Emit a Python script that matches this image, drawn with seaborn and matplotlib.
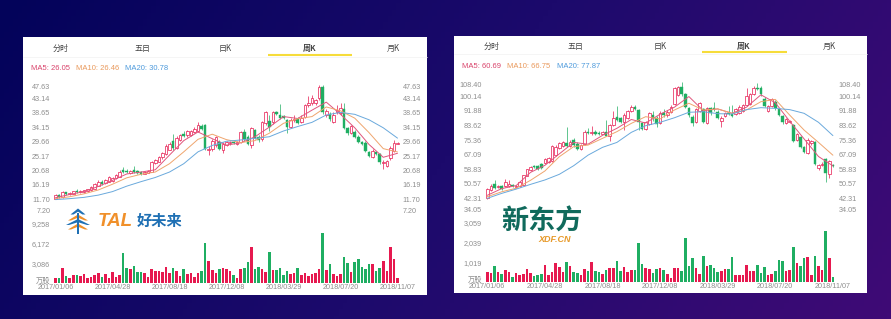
import numpy as np
import pandas as pd
import seaborn as sns
import matplotlib.pyplot as plt
from matplotlib.colors import LinearSegmentedColormap
from matplotlib.patches import Polygon, Rectangle
from matplotlib.transforms import ScaledTranslation

W, H = 891, 319
RED = '#e6194f'
GREEN = '#1fae62'
MA_COLORS = ['#e0567c', '#efa56e', '#6aa9dc']
GREY = '#8e8e8e'

tabs = ['分时', '五日', '日K', '周K', '月K']
dates = ['2017/01/06', '2017/04/28', '2017/08/18', '2017/12/08', '2018/03/29', '2018/07/20', '2018/11/07']
date_idx = [0, 16, 32, 48, 64, 80, 96]
ma_idx = list(range(0, 97, 4))

# TAL
tal_labels = ['MA5: 26.05', 'MA10: 26.46', 'MA20: 30.78']
tal_ticks = [47.63, 43.14, 38.65, 34.15, 29.66, 25.17, 20.68, 16.19, 11.70, 7.20]
tal_vol_ticks = [3086, 6172, 9258]
tal_open = [11.9, 12.9, 12.3, 13.9, 13.2, 13.5, 14.4, 13.9, 14.0, 14.2, 14.5, 15.0, 16.0, 17.2, 16.7, 17.2, 17.5, 18.2, 18.8, 20.9,
            20.6, 20.0, 20.7, 20.6, 20.3, 19.7, 20.0, 20.3, 23.0, 23.4, 24.8, 25.8, 27.2, 29.9, 27.8, 30.2, 32.0, 31.6, 31.9, 32.7,
            33.0, 34.6, 34.9, 27.0, 27.3, 28.5, 29.7, 27.0, 28.6, 29.2, 29.7, 29.1, 29.7, 32.8, 31.2, 28.6, 33.3, 31.2, 30.4, 35.4,
            36.2, 35.7, 38.8, 37.9, 37.6, 36.3, 34.4, 36.3, 36.8, 35.8, 37.5, 41.1, 41.6, 41.6, 43.2, 46.6, 38.0, 38.4, 35.9, 39.0,
            38.5, 40.0, 33.8, 32.3, 32.8, 31.2, 29.5, 29.4, 26.5, 25.0, 26.5, 25.7, 23.0, 22.2, 24.5, 26.7, 29.1]
tal_close = [13.0, 12.3, 13.9, 13.2, 13.8, 14.2, 13.9, 14.3, 14.5, 14.8, 15.6, 16.6, 17.2, 16.6, 17.7, 18.6, 18.2, 19.3, 20.3, 20.3,
             20.2, 20.6, 20.1, 20.0, 19.7, 20.2, 20.4, 23.2, 24.0, 24.9, 26.2, 28.4, 29.1, 27.6, 30.9, 31.6, 31.4, 33.0, 32.9, 33.7,
             34.8, 33.6, 27.4, 27.4, 29.9, 31.0, 27.5, 29.1, 29.5, 29.7, 29.2, 29.6, 32.6, 30.5, 29.1, 33.8, 30.9, 30.1, 35.7, 38.8,
             34.4, 38.8, 38.3, 37.2, 37.1, 34.4, 36.3, 36.8, 35.6, 37.0, 41.1, 41.6, 43.2, 42.6, 46.8, 38.8, 39.2, 36.7, 38.0, 39.4,
             40.3, 34.0, 32.3, 34.6, 31.2, 29.7, 28.9, 26.9, 25.3, 26.9, 25.9, 23.2, 23.3, 23.7, 27.8, 29.4, 29.3]
tal_high = [13.2, 13.2, 14.2, 14.1, 14.0, 14.4, 14.9, 14.5, 14.7, 15.0, 15.9, 16.9, 17.6, 17.6, 18.0, 19.0, 18.6, 19.7, 20.9, 21.8,
            21.0, 20.9, 22.0, 20.9, 20.6, 20.5, 20.7, 23.6, 24.4, 25.2, 26.6, 28.9, 29.5, 32.0, 31.3, 32.0, 32.9, 33.4, 33.3, 34.2,
            35.8, 35.3, 35.2, 28.2, 30.4, 31.4, 30.2, 29.6, 29.9, 30.0, 30.0, 30.0, 33.0, 33.6, 31.6, 34.1, 33.7, 31.6, 36.0, 39.1,
            38.0, 39.1, 39.3, 41.3, 38.0, 36.8, 36.9, 38.0, 37.4, 38.0, 41.5, 44.0, 44.3, 43.1, 47.2, 47.4, 39.8, 38.8, 38.8, 41.0,
            41.8, 41.8, 34.2, 35.0, 33.2, 31.6, 29.9, 29.8, 26.9, 27.3, 26.8, 26.1, 23.8, 24.1, 28.2, 30.3, 29.6]
tal_low = [11.7, 12.0, 12.1, 13.0, 13.0, 13.3, 13.6, 13.7, 13.8, 14.0, 14.3, 14.8, 15.8, 16.3, 16.5, 17.0, 17.2, 18.0, 18.6, 20.0,
           19.9, 19.7, 19.9, 19.7, 19.4, 19.5, 19.8, 20.1, 22.6, 23.2, 24.4, 25.5, 27.0, 27.2, 27.4, 29.8, 31.0, 31.2, 31.5, 32.3,
           32.6, 33.2, 27.0, 25.4, 26.9, 28.0, 27.0, 26.0, 28.2, 28.6, 28.9, 28.7, 29.3, 30.0, 28.6, 27.6, 30.4, 29.7, 30.0, 34.8,
           33.0, 35.3, 37.9, 36.8, 36.7, 32.3, 34.0, 35.9, 35.2, 35.4, 37.0, 40.6, 41.2, 41.1, 42.8, 38.3, 37.5, 36.2, 35.5, 38.4,
           38.0, 33.5, 31.8, 32.0, 30.8, 29.2, 28.5, 26.4, 24.9, 24.6, 25.5, 22.8, 21.0, 21.8, 23.8, 26.3, 28.8]
tal_vol = [770, 770, 2310, 1130, 770, 1290, 1290, 1130, 1440, 770, 1030, 1340, 1640, 1030, 1440, 770, 1800, 1030, 1290, 4730,
           2310, 2210, 2670, 1800, 1700, 1640, 930, 2260, 1950, 1850, 1700, 2570, 1540, 2310, 1850, 1130, 2160, 1440, 1640, 1030,
           1540, 1950, 6170, 3500, 2060, 1540, 2260, 2360, 2160, 1850, 1290, 870, 2160, 2360, 3340, 5650, 2160, 2570, 2160, 1750,
           4880, 2060, 2060, 2310, 1340, 1850, 1490, 1540, 2360, 1290, 1640, 1180, 1490, 1540, 2160, 7810, 2060, 2930, 1490, 1080,
           1490, 4010, 3080, 1750, 3340, 3700, 2570, 2260, 2980, 2980, 1950, 2360, 3500, 1850, 5650, 3700, 820]
tal_ma5 = [12.2, 13.2, 14.1, 15.7, 17.6, 19.6, 20.2, 20.9, 25.5, 30.0, 32.7, 30.6, 28.6, 29.3, 31.2, 34.2, 37.5, 36.9, 39.5, 42.0, 38.2, 34.0, 28.8, 24.8, 26.05]
tal_ma10 = [11.9, 12.5, 13.4, 14.6, 16.4, 18.4, 19.5, 20.2, 22.8, 26.5, 30.4, 32.0, 30.3, 29.4, 30.0, 32.3, 35.4, 36.8, 37.5, 40.5, 39.3, 37.0, 32.5, 27.5, 26.46]
tal_ma20 = [11.6, 11.9, 12.3, 13.0, 14.1, 15.8, 17.2, 18.5, 20.2, 22.8, 26.5, 28.5, 29.8, 30.2, 30.7, 31.2, 33.0, 34.4, 35.7, 38.0, 38.8, 38.2, 36.5, 34.0, 30.78]

# XDF
xdf_labels = ['MA5: 60.69', 'MA10: 66.75', 'MA20: 77.87']
xdf_ticks = [108.40, 100.14, 91.88, 83.62, 75.36, 67.09, 58.83, 50.57, 42.31, 34.05]
xdf_vol_ticks = [1019, 2039, 3059]
xdf_open = [42.3, 47.0, 50.2, 48.7, 49.0, 49.0, 49.2, 49.8, 48.6, 49.2, 50.0, 55.1, 58.3, 60.8, 60.6, 61.6, 62.1, 63.1, 63.4, 66.8,
            70.6, 72.0, 73.5, 72.0, 75.4, 73.0, 70.2, 73.0, 80.1, 79.1, 80.1, 79.6, 79.0, 80.1, 77.8, 83.9, 88.6, 88.0, 85.8, 87.7,
            91.8, 94.3, 92.4, 84.8, 81.4, 84.2, 89.5, 87.7, 85.0, 90.5, 89.6, 91.4, 95.8, 100.9, 105.6, 101.3, 93.3, 88.6, 85.8, 92.0,
            92.9, 85.0, 93.3, 93.3, 91.4, 86.1, 89.0, 90.9, 90.2, 90.3, 90.5, 92.0, 95.2, 95.8, 101.3, 104.8, 105.0, 98.9, 91.8, 94.8,
            97.2, 93.0, 89.0, 84.8, 85.6, 83.9, 75.4, 77.2, 71.6, 67.8, 73.5, 74.2, 59.3, 61.0, 64.6, 56.0, 61.2]
xdf_close = [47.5, 49.4, 48.0, 49.0, 47.6, 51.5, 50.4, 49.1, 49.4, 51.6, 55.3, 58.7, 60.2, 60.2, 58.9, 59.4, 64.6, 65.4, 71.9, 71.6,
             73.5, 74.0, 72.0, 74.0, 72.5, 70.2, 72.4, 80.1, 79.1, 80.1, 79.0, 78.6, 79.8, 77.8, 83.9, 87.7, 86.7, 85.3, 89.5, 91.8,
             94.3, 93.0, 85.4, 81.4, 85.4, 90.5, 87.6, 84.6, 90.5, 89.5, 91.4, 94.3, 104.7, 105.3, 101.3, 94.3, 89.5, 84.8, 92.9, 96.2,
             85.8, 93.3, 90.5, 92.9, 87.7, 88.0, 90.9, 90.2, 88.8, 93.0, 94.0, 95.0, 100.6, 101.3, 105.0, 104.2, 101.3, 94.8, 94.6, 98.7,
             93.4, 89.5, 85.4, 87.3, 86.2, 74.8, 78.8, 71.6, 68.7, 75.4, 74.6, 61.8, 61.2, 61.6, 56.4, 63.2, 60.7]
xdf_high = [48.0, 50.2, 52.8, 49.8, 49.8, 53.0, 52.6, 50.4, 49.8, 52.0, 55.8, 59.0, 60.6, 61.2, 61.4, 62.2, 65.2, 66.0, 72.4, 72.6,
            74.0, 75.0, 83.0, 75.4, 76.6, 74.0, 73.0, 80.8, 82.0, 83.4, 81.0, 80.4, 80.4, 86.8, 84.4, 91.8, 94.6, 88.6, 90.6, 92.4,
            95.0, 95.2, 93.2, 85.6, 86.0, 91.4, 92.0, 88.8, 91.6, 93.0, 92.2, 95.0, 105.4, 106.0, 108.4, 102.0, 94.2, 89.4, 93.6, 97.0,
            93.6, 94.2, 94.0, 97.0, 92.4, 88.8, 91.4, 94.8, 95.4, 93.6, 95.2, 95.8, 105.0, 102.0, 105.8, 107.8, 106.2, 99.8, 95.2, 99.4,
            98.0, 93.8, 89.6, 88.0, 86.8, 84.6, 79.4, 77.8, 72.2, 76.4, 75.4, 74.8, 61.8, 63.0, 65.0, 64.0, 61.8]
xdf_low = [41.9, 46.6, 47.6, 48.0, 47.2, 48.6, 48.6, 48.8, 48.2, 48.8, 49.6, 54.8, 57.8, 59.6, 58.4, 59.0, 61.6, 62.6, 63.0, 66.2,
           70.0, 71.4, 71.4, 71.2, 71.6, 69.6, 69.6, 72.4, 78.6, 78.4, 78.4, 78.2, 78.6, 77.4, 75.0, 83.4, 86.2, 84.8, 81.0, 87.2,
           91.2, 92.4, 81.2, 81.0, 81.0, 83.6, 86.4, 82.6, 84.4, 88.6, 88.6, 90.8, 95.0, 100.2, 100.6, 93.6, 88.6, 83.4, 85.0, 91.4,
           84.8, 84.4, 89.6, 92.0, 87.0, 83.0, 88.4, 89.6, 88.2, 89.6, 90.0, 91.4, 94.6, 95.2, 100.8, 103.6, 100.6, 94.0, 91.0, 94.2,
           92.6, 88.8, 84.6, 84.2, 85.0, 74.0, 74.8, 71.0, 68.0, 67.2, 72.8, 61.2, 58.6, 60.4, 51.4, 54.0, 60.2]
xdf_vol = [544, 476, 833, 510, 442, 612, 510, 255, 493, 374, 425, 680, 493, 340, 374, 408, 884, 374, 510, 1003,
           782, 510, 1054, 816, 527, 493, 357, 680, 578, 1020, 595, 544, 442, 646, 714, 731, 1088, 578, 799, 510,
           612, 612, 2006, 952, 714, 680, 476, 680, 714, 612, 442, 238, 748, 714, 595, 2278, 850, 1224, 714, 442,
           1326, 816, 901, 731, 527, 578, 663, 680, 1309, 374, 391, 391, 884, 578, 595, 901, 476, 782, 357, 425,
           561, 1139, 1088, 595, 629, 1785, 986, 816, 1224, 1292, 374, 1360, 850, 646, 2601, 1241, 289]
xdf_ma5 = [44.0, 47.8, 49.5, 57.0, 61.0, 67.5, 74.0, 73.0, 78.0, 82.0, 87.0, 85.0, 90.0, 94.0, 100.0, 92.0, 93.0, 90.5, 94.0, 101.0, 96.5, 86.0, 76.0, 66.0, 60.69]
xdf_ma10 = [43.2, 46.0, 48.0, 52.5, 57.8, 65.9, 71.6, 72.5, 76.3, 80.1, 84.8, 88.6, 87.3, 92.4, 96.2, 92.4, 93.0, 90.5, 92.4, 97.1, 98.4, 89.5, 81.0, 74.0, 66.75]
xdf_ma20 = [42.3, 45.1, 47.5, 50.2, 52.7, 55.9, 60.8, 66.8, 71.2, 74.0, 79.7, 83.5, 85.4, 88.0, 91.1, 91.4, 90.3, 90.1, 92.6, 93.7, 93.3, 92.6, 90.5, 85.4, 77.87]

sns.set_theme(style='white')
plt.rcParams['font.family'] = ['Liberation Sans', 'Noto Sans CJK SC', 'DejaVu Sans']

fig = plt.figure(figsize=(W / 100, H / 100), dpi=100)

# background and white cards, in pixel coordinates
bg = fig.add_axes([0, 0, 1, 1])
xx, yy = np.meshgrid(np.linspace(0, 1, 200), np.linspace(0, 1, 100))
cmap = LinearSegmentedColormap.from_list('bg', ['#03035a', '#1c0a6c', '#3f0a76'])
bg.imshow(0.8 * xx + 0.2 * yy, cmap=cmap, extent=(0, W, H, 0), aspect='auto', vmin=0, vmax=1)
bg.set_xlim(0, W)
bg.set_ylim(H, 0)
bg.axis('off')


def pix_axes(x0, x1, y0, y1):
    ax = fig.add_axes([x0 / W, 1 - y1 / H, (x1 - x0) / W, (y1 - y0) / H])
    ax.patch.set_alpha(0)
    sns.despine(ax=ax, left=True, bottom=True)
    return ax


def nudge(label, dy):
    label.set_transform(label.get_transform() + ScaledTranslation(0, dy / 72, fig.dpi_scale_trans))


def draw_panel(card, tab_x, tab_y, line_x, line_y, ma_x, ma_y, labels, x0, dx, price_box, price_lim, vol_box, vol_lim,
               ticks, vol_ticks, opens, closes, highs, lows, vols, ma5, ma10, ma20):
    bg.add_patch(Rectangle((card[0], card[2]), card[1] - card[0], card[3] - card[2], fc='white', ec='none'))
    for t, x in zip(tabs, tab_x):
        bg.text(x, tab_y, t, ha='center', va='center', fontsize=5.8, color='#444444', family='Noto Sans CJK SC',
                fontweight='bold' if t == '周K' else 'normal')
    bg.plot(line_x, [line_y, line_y], color='#f6dc3a', lw=1.5, solid_capstyle='butt')
    bg.plot([card[0], card[1]], [line_y + 1.5, line_y + 1.5], color='#f2f2f2', lw=0.5)
    for t, x, c in zip(labels, ma_x, ['#d9436b', '#e9995c', '#4f9bdc']):
        bg.text(x, ma_y, t, ha='left', va='center', fontsize=5.5, color=c)

    idx = np.arange(len(opens))
    opens, closes = np.array(opens), np.array(closes)
    up = closes >= opens
    xlim = ((price_box[0] - x0) / dx, (price_box[1] - x0) / dx)

    ax = pix_axes(*price_box)
    for name, vals, c in zip(['MA5', 'MA10', 'MA20'], [ma5, ma10, ma20], MA_COLORS):
        sns.lineplot(x=ma_idx, y=vals, ax=ax, color=c, lw=0.7, zorder=4, errorbar=None)
    ax.vlines(idx, lows, highs, colors=[RED if u else GREEN for u in up], lw=0.5, zorder=2)
    ax.bar(idx[up], np.maximum(closes[up] - opens[up], 0.1), bottom=opens[up], width=0.72, fc='white', ec=RED, lw=0.5, zorder=3)
    ax.bar(idx[~up], opens[~up] - closes[~up], bottom=closes[~up], width=0.72, fc=GREEN, ec=GREEN, lw=0.3, zorder=3)
    ax.set_xlim(*xlim)
    ax.set_ylim(*price_lim)
    ax.set_xticks([])
    ax.set_yticks(ticks)
    ax.set_yticklabels(['%.2f' % t for t in ticks])
    ax.tick_params(axis='y', length=0, pad=0.5, labelleft=True, labelright=True, labelsize=5.2, labelcolor=GREY)
    for tick in ax.yaxis.get_major_ticks():
        if tick.get_loc() == ticks[0]:
            nudge(tick.label1, -1.8)
            nudge(tick.label2, -1.8)
        if tick.get_loc() == ticks[-1]:
            nudge(tick.label1, 2.1)
            nudge(tick.label2, 2.1)

    vax = pix_axes(*vol_box)
    df = pd.DataFrame({'week': idx, 'vol': vols, 'side': np.where(up, 'up', 'down')})
    sns.barplot(data=df, x='week', y='vol', hue='side', order=list(idx), palette={'up': RED, 'down': GREEN}, dodge=False,
                width=0.72, saturation=1, linewidth=0, legend=False, ax=vax)
    vax.set_xlim(*xlim)
    vax.set_ylim(*vol_lim)
    vax.set_xlabel('')
    vax.set_ylabel('')
    vax.set_xticks(date_idx)
    vax.set_xticklabels(dates)
    vax.tick_params(axis='x', length=0, pad=0.8, labelsize=5.2, labelcolor=GREY)
    vax.set_yticks([0] + vol_ticks)
    vax.set_yticklabels(['万股'] + ['{:,}'.format(v) for v in vol_ticks])
    vax.tick_params(axis='y', length=0, pad=0.5, labelsize=5.2, labelcolor=GREY)
    nudge(vax.yaxis.get_major_ticks()[0].label1, 2.4)


draw_panel((23, 427, 37, 295), [61, 143, 225, 310, 393], 48, (268, 352), 55, [31, 76, 125], 69, tal_labels,
           55.5, 3.5625, (51, 402, 82, 216), (6.49, 48.28), (51, 402, 222, 283.3), (0, 9458),
           tal_ticks, tal_vol_ticks, tal_open, tal_close, tal_high, tal_low, tal_vol, tal_ma5, tal_ma10, tal_ma20)
draw_panel((454, 867, 36, 293), [492, 576, 660, 744, 829], 46, (702, 787), 52, [462, 507, 557], 67, xdf_labels,
           487.3, 3.6, (482.5, 838, 80, 214), (33.4, 109.4), (482.5, 838, 221, 282.3), (0, 3123),
           xdf_ticks, xdf_vol_ticks, xdf_open, xdf_close, xdf_high, xdf_low, xdf_vol, xdf_ma5, xdf_ma10, xdf_ma20)

# TAL logo
blue = '#1f70b4'
orange = '#f0902a'
bg.add_patch(Rectangle((76.7, 213), 2.6, 21, fc=blue, ec='none', zorder=3))
for top, half, c in [(208.5, 7.5, blue), (214.5, 10, orange), (219, 12, blue), (223.5, 10, orange)]:
    bg.add_patch(Polygon([(78, top), (78 + half, top + 6), (78 + half - 3, top + 6), (78, top + 3.2),
                          (78 - half + 3, top + 6), (78 - half, top + 6)], fc=c, ec='none', zorder=2))
bg.text(98, 221, 'TAL', fontsize=13.5, fontweight='bold', style='italic', color=orange, va='center', ha='left')
bg.text(137, 221, '好未来', fontsize=11, fontweight='bold', color=blue, va='center', ha='left', family='Noto Sans CJK SC')

# XDF logo
bg.text(542, 222, '新东方', fontsize=19.5, fontweight='bold', color='#106a5c', va='center', ha='center', family='Noto Sans CJK SC')
bg.text(555, 239.5, 'XDF.CN', fontsize=6.5, fontweight='bold', style='italic', color='#e79a2a', va='center', ha='center', zorder=5)

fig.savefig('out.png', dpi=100)
